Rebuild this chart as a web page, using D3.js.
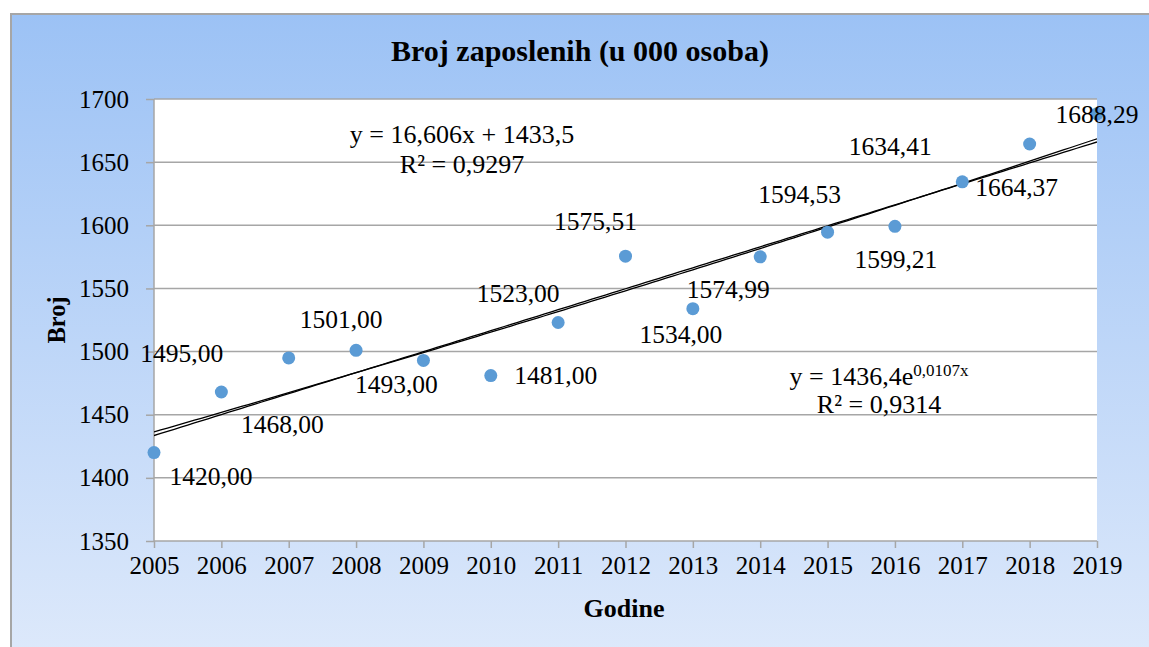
<!DOCTYPE html>
<html><head><meta charset="utf-8">
<script src="https://cdn.jsdelivr.net/npm/d3@7"></script>
<style>
html,body{margin:0;padding:0;background:#fff;}
svg{display:block;font-family:"Liberation Serif","Times New Roman",serif;}
</style></head>
<body><svg id="c" width="1149" height="647"></svg>
<script>
const years = [2005,2006,2007,2008,2009,2010,2011,2012,2013,2014,2015,2016,2017,2018,2019];
const values = [1420.00,1468.00,1495.00,1501.00,1493.00,1481.00,1523.00,1575.51,1534.00,1574.99,1594.53,1599.21,1634.41,1664.37,1688.29];
const yTicks = [1350,1400,1450,1500,1550,1600,1650,1700];
const linearFit = {slope:16.606, intercept:1433.5, r2:"0,9297"};
const expFit = {a:1436.4, b:0.0107, r2:"0,9314"};
// label offsets (px) relative to each point
const labelDx = [57,61,-107,-15,-27,65,-40,-30,-12,-32,-28,1,-72,-13,0];
const labelDy = [32,41,4,-22,33,8,-21,-26,34,41,-29,42,-27,52,9];

const FONT = '"Liberation Serif","Times New Roman",serif';
const svg = d3.select("#c");
const defs = svg.append("defs");
const g = defs.append("linearGradient").attr("id","bg").attr("x1",0).attr("y1",0).attr("x2",0).attr("y2",1);
g.append("stop").attr("offset","0%").attr("stop-color","#9CC2F5");
g.append("stop").attr("offset","100%").attr("stop-color","#DFEAFB");
defs.append("clipPath").attr("id","clip").append("rect").attr("x",154).attr("y",99).attr("width",943).attr("height",442);

svg.append("rect").attr("x",11).attr("y",14).attr("width",1400).attr("height",660)
  .attr("fill","url(#bg)").attr("stroke","#A6A6A6").attr("stroke-width",2);

const m = {l:154, r:1097, t:99, b:541};
const x = d3.scalePoint().domain(years).range([m.l,m.r]);
const xi = d3.scaleLinear().domain([0,years.length-1]).range([m.l,m.r]);
const y = d3.scaleLinear().domain([1350,1700]).range([m.b,m.t]);

svg.append("rect").attr("x",m.l).attr("y",m.t).attr("width",m.r-m.l).attr("height",m.b-m.t).attr("fill","#fff");

// gridlines
svg.append("g").selectAll("line").data(yTicks.filter(d=>d>1350)).join("line")
  .attr("x1",m.l).attr("x2",m.r).attr("y1",d=>y(d)).attr("y2",d=>y(d))
  .attr("stroke","#A6A6A6").attr("stroke-width",1.5);

// y axis
const ya = svg.append("g").attr("transform",`translate(${m.l},0)`)
  .call(d3.axisLeft(y).tickValues(yTicks).tickSize(8).tickPadding(17).tickFormat(d3.format("d")));
ya.attr("font-family",FONT);
ya.select(".domain").attr("stroke","#A6A6A6").attr("stroke-width",1.5).attr("d",`M0,${m.t}V${m.b}`);
ya.selectAll(".tick line").attr("stroke","#A6A6A6").attr("stroke-width",1.5);
ya.selectAll("text").attr("font-size",25).attr("fill","#000").attr("dy","0.32em");

// x axis
const xa = svg.append("g").attr("transform",`translate(0,${m.b})`)
  .call(d3.axisBottom(x).tickSize(7).tickPadding(8).tickFormat(d3.format("d")));
xa.attr("font-family",FONT);
xa.select(".domain").attr("stroke","#A6A6A6").attr("stroke-width",1.5).attr("d",`M${m.l},0H${m.r}`);
xa.selectAll(".tick line").attr("stroke","#A6A6A6").attr("stroke-width",1.5);
xa.selectAll("text").attr("font-size",25).attr("fill","#000").attr("dy","0.72em");

// trend lines
const samples = d3.range(0, years.length-1+0.001, 0.1);
const plot = svg.append("g").attr("clip-path","url(#clip)");
plot.append("path").datum(samples)
  .attr("d", d3.line().x(t=>xi(t)).y(t=>y(linearFit.intercept+linearFit.slope*t)))
  .attr("fill","none").attr("stroke","#000").attr("stroke-width",1.3);
plot.append("path").datum(samples)
  .attr("d", d3.line().x(t=>xi(t)).y(t=>y(expFit.a*Math.exp(expFit.b*t))))
  .attr("fill","none").attr("stroke","#000").attr("stroke-width",1.3);

// points
svg.append("g").selectAll("circle").data(values).join("circle")
  .attr("cx",(d,i)=>x(years[i])).attr("cy",d=>y(d)).attr("r",6.5).attr("fill","#5B9BD5");

// data labels
const fmt = v => v.toFixed(2).replace(".",",");
svg.append("g").attr("font-family",FONT).selectAll("text").data(values).join("text")
  .attr("x",(d,i)=>x(years[i])+labelDx[i]).attr("y",(d,i)=>y(d)+labelDy[i])
  .attr("text-anchor","middle").attr("font-size",25.5).attr("fill","#000").text(fmt);

// equations
const eq = svg.append("g").attr("font-family",FONT).attr("font-size",26).attr("fill","#000").attr("text-anchor","middle");
eq.append("text").attr("x",462).attr("y",143).text(`y = ${String(linearFit.slope).replace(".",",")}x + ${String(linearFit.intercept).replace(".",",")}`);
eq.append("text").attr("x",462).attr("y",173).text(`R² = ${linearFit.r2}`);
const e1 = eq.append("text").attr("x",879).attr("y",385);
e1.append("tspan").text(`y = ${String(expFit.a).replace(".",",")}e`);
e1.append("tspan").attr("font-size",17).attr("dy",-9).text(`${String(expFit.b).replace(".",",")}x`);
eq.append("text").attr("x",879).attr("y",413).text(`R² = ${expFit.r2}`);

// titles
svg.append("text").attr("font-family",FONT).attr("x",580).attr("y",61).attr("text-anchor","middle").attr("font-size",30)
  .attr("font-weight","bold").text("Broj zaposlenih (u 000 osoba)");
svg.append("text").attr("font-family",FONT).attr("x",624).attr("y",617).attr("text-anchor","middle").attr("font-size",26)
  .attr("font-weight","bold").text("Godine");
svg.append("text").attr("font-family",FONT).attr("transform","translate(65,320) rotate(-90)").attr("text-anchor","middle").attr("font-size",24.5)
  .attr("font-weight","bold").text("Broj");
</script></body></html>
